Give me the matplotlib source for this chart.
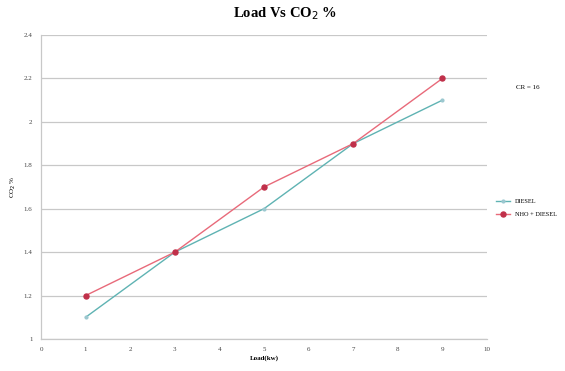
import matplotlib
matplotlib.use("Agg")
import matplotlib.pyplot as plt

# Load (kW) and CO2 % readings
load = [1, 3, 5, 7, 9]
diesel = [1.1, 1.4, 1.6, 1.9, 2.1]
nho_diesel = [1.2, 1.4, 1.7, 1.9, 2.2]
x_ticks = list(range(0, 11))
y_ticks = [1, 1.2, 1.4, 1.6, 1.8, 2, 2.2, 2.4]

plt.rcParams['font.family'] = ['Liberation Serif', 'DejaVu Serif']

fig = plt.figure(figsize=(5.65, 3.71), dpi=100)
ax = fig.add_axes([0.0726, 0.0863, 0.7894, 0.8194])

ax.plot(load, diesel, color='#5fb3b3', lw=1.0, marker='o', ms=2,
        mfc='#9cc8d0', mec='#9cc8d0', label='DIESEL')
ax.plot(load, nho_diesel, color='#e86a7a', lw=1.0, marker='o', ms=3.6,
        mfc='#c0304a', mec='#c0304a', label='NHO + DIESEL')

ax.set_xlim(0, 10)
ax.set_ylim(1, 2.4)
ax.set_xticks(x_ticks)
ax.set_yticks(y_ticks)
ax.set_yticklabels([f"{v:g}" for v in y_ticks])
ax.tick_params(labelsize=5, length=0, colors='#444444', pad=6)
ax.grid(axis='y', color='#c8c8c8', lw=0.9)
ax.set_axisbelow(True)
for side in ('top', 'right'):
    ax.spines[side].set_visible(False)
for side in ('left', 'bottom'):
    ax.spines[side].set_color('#c8c8c8')
    ax.spines[side].set_linewidth(0.9)

fig.text(0.505, 0.962, 'Load Vs CO$_2$ %', fontsize=10.5, fontweight='bold',
         ha='center', va='center')
ax.set_xlabel('Load(kw)', fontsize=5, fontweight='bold', labelpad=2)
ax.set_ylabel('CO$_2$ %', fontsize=5, labelpad=4)

fig.text(0.935, 0.763, 'CR = 16', fontsize=5, ha='center', va='center')
fig.legend(loc='center left', bbox_to_anchor=(0.868, 0.44), frameon=False,
           fontsize=4.5, handlelength=2.2, labelspacing=1.2)

fig.savefig('out.png', dpi=100)
